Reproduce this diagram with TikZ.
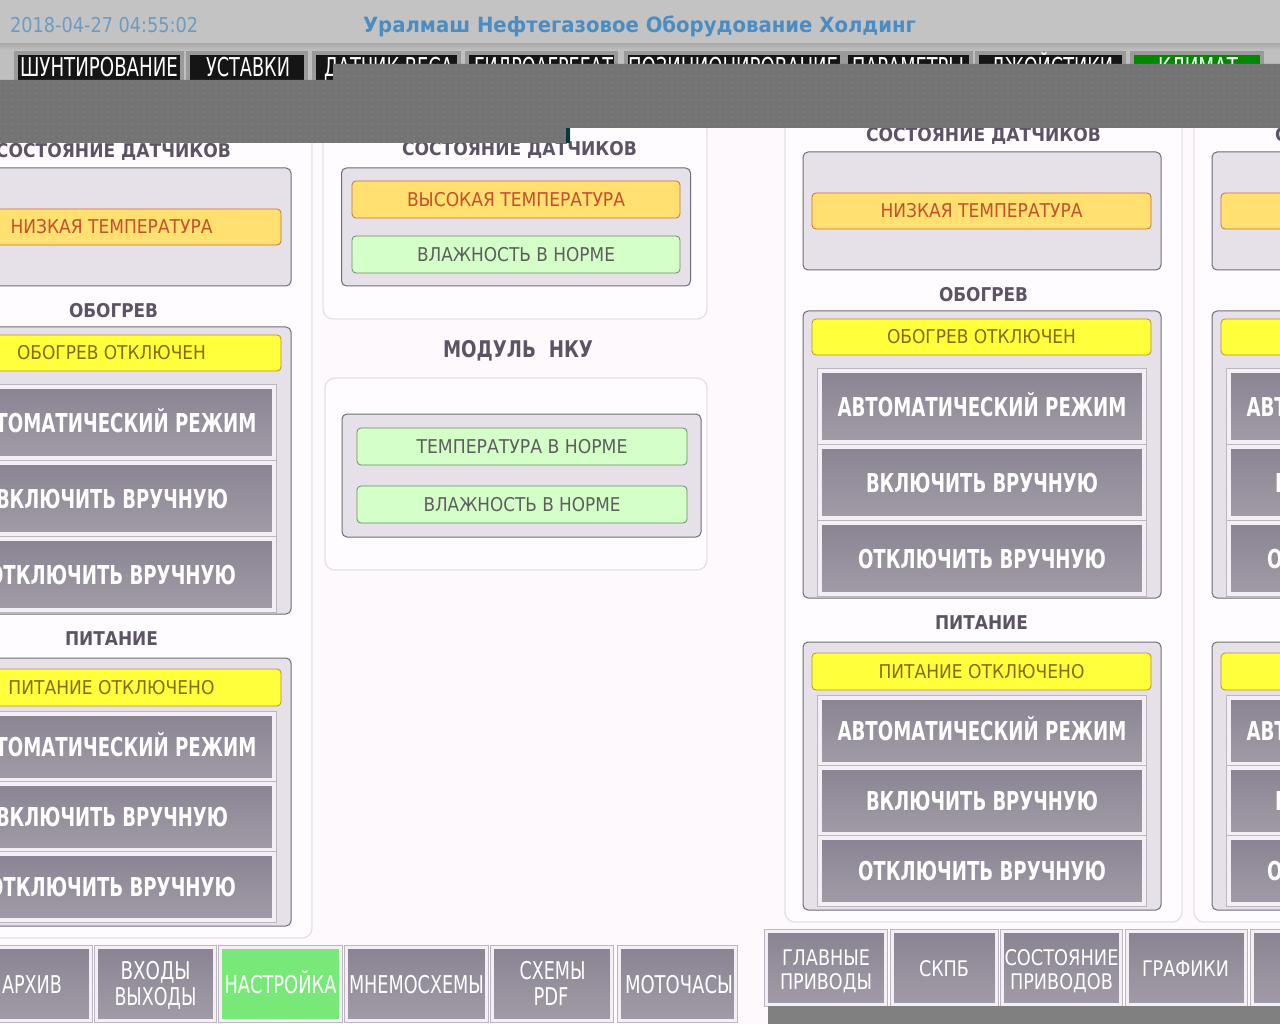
\documentclass[tikz,border=0pt]{standalone}
\usepackage{fontspec}
\setmainfont{DejaVu Sans}
\usepackage{graphicx}
\usetikzlibrary{patterns.meta}

\definecolor{bgmain}{HTML}{FDF9FD}
\definecolor{titlebar}{HTML}{C3C3C3}
\definecolor{tabstrip}{HTML}{BFBFBF}
\definecolor{overlaycol}{HTML}{747474}
\definecolor{overlaydot}{HTML}{8E8E8E}
\definecolor{datecol}{HTML}{6C9BC3}
\definecolor{titlecol}{HTML}{4A8DC3}
\definecolor{hdrcol}{HTML}{5C5464}
\definecolor{cardfill}{HTML}{FFFCFF}
\definecolor{cardline}{HTML}{E6DFE8}
\definecolor{boxfill}{HTML}{E6E0E8}
\definecolor{boxdraw}{HTML}{726A7A}
\definecolor{orfill}{HTML}{FFE070}
\definecolor{ordraw}{HTML}{C8703C}
\definecolor{ortext}{HTML}{C4502C}
\definecolor{yefill}{HTML}{FFFF3C}
\definecolor{yedraw}{HTML}{B89030}
\definecolor{yetext}{HTML}{8A6A14}
\definecolor{grfill}{HTML}{D4FFC8}
\definecolor{grdraw}{HTML}{6C8C6C}
\definecolor{grtext}{HTML}{5E5E5E}
\definecolor{btntop}{HTML}{8A8392}
\definecolor{btnbot}{HTML}{A29BA7}
\definecolor{btnframe}{HTML}{F3EFF5}
\definecolor{btnedge}{HTML}{BDB5C2}
\definecolor{navgreen}{HTML}{78E878}
\definecolor{tabgreen}{HTML}{008800}
\definecolor{tabblack}{HTML}{151515}
\definecolor{tabframe}{HTML}{9A9A9A}
\definecolor{bottombar}{HTML}{808080}

\newsavebox\fitbox
\newcommand\fitw[2]{\sbox\fitbox{#2}\pgfmathsetmacro\fitsx{#1/\the\wd\fitbox}\scalebox{\fitsx}[1]{\usebox\fitbox}}

\newcommand\hmihdr{\fontsize{19}{22}\selectfont\bfseries}
\newcommand\hmihdrbig{\fontsize{23}{26}\selectfont\bfseries}
\newcommand\hmiind{\fontsize{19}{22}\selectfont}
\newcommand\hmibtn{\fontsize{26}{30}\selectfont\bfseries}
\newcommand\hminavl{\fontsize{24.5}{28}\selectfont}
\newcommand\hminavr{\fontsize{21.5}{25}\selectfont}
\newcommand\hmitab{\fontsize{26}{30}\selectfont}
\newcommand\hmidate{\fontsize{20.5}{24}\selectfont}
\newcommand\hmititle{\fontsize{21}{24}\selectfont\bfseries}

\tikzset{
 card/.style={draw=cardline, fill=cardfill, line width=1.3pt, rounded corners=10pt, inner sep=0pt},
 graybox/.style={draw=boxdraw, fill=boxfill, line width=1pt, rounded corners=5pt, inner sep=0pt},
 hdr/.style={anchor=base, inner sep=0pt, text=hdrcol, font=\hmihdr},
 hdrbig/.style={anchor=base, inner sep=0pt, text=hdrcol, font=\hmihdrbig},
 indcommon/.style={line width=0.8pt, rounded corners=4pt, inner sep=0pt, font=\hmiind, text height=13.9pt, text depth=0pt},
 indor/.style={indcommon, draw=ordraw, fill=orfill, text=ortext},
 indye/.style={indcommon, draw=yedraw, fill=yefill, text=yetext},
 indgr/.style={indcommon, draw=grdraw, fill=grfill, text=grtext},
 bigbtn/.style={inner sep=0pt, preaction={draw=btnedge, line width=6pt}, top color=btntop, bottom color=btnbot, draw=btnframe, line width=4pt, text=white, font=\hmibtn, text height=19pt, text depth=0pt},
 navbtn/.style={inner sep=0pt, preaction={draw=btnedge, line width=5pt}, top color=btntop, bottom color=btnbot, draw=btnframe, line width=3pt, minimum height=73},
 navgreenbtn/.style={inner sep=0pt, preaction={draw=btnedge, line width=5pt}, fill=navgreen, draw=btnframe, line width=3pt, minimum height=73},
 navtxtl/.style={anchor=base, inner sep=0pt, text=white, font=\hminavl},
 navtxtr/.style={anchor=base, inner sep=0pt, text=white, font=\hminavr},
 tabbtn/.style={inner sep=0pt, fill=tabblack, draw=tabframe, line width=4pt, minimum height=35},
 tabtxt/.style={anchor=base, inner sep=0pt, text=white, font=\hmitab},
}

\newcommand\climcol[3]{%
\begin{scope}[shift={(#2,#3)}]
 \node[card, minimum width=397, minimum height=822] (#1card) at (983.5,511) {};
 \node[hdr] (#1hdrA) at (983.5,142) {\fitw{235}{СОСТОЯНИЕ ДАТЧИКОВ}};
 \node[graybox, minimum width=358, minimum height=118] (#1boxA) at (982,211) {};
 \node[indor, minimum width=339, minimum height=36] (#1low) at (981.5,211) {\fitw{202}{НИЗКАЯ ТЕМПЕРАТУРА}};
 \node[hdr] (#1hdrB) at (983.5,302) {\fitw{89}{ОБОГРЕВ}};
 \node[graybox, minimum width=358, minimum height=287] (#1boxB) at (982,454.5) {};
 \node[indye, minimum width=339, minimum height=36] (#1heat) at (981.5,337) {\fitw{189}{ОБОГРЕВ ОТКЛЮЧЕН}};
 \node[bigbtn, minimum width=324, minimum height=71] (#1hA) at (982,406.5) {\fitw{289}{АВТОМАТИЧЕСКИЙ РЕЖИМ}};
 \node[bigbtn, minimum width=324, minimum height=71] (#1hB) at (982,482.5) {\fitw{232}{ВКЛЮЧИТЬ ВРУЧНУЮ}};
 \node[bigbtn, minimum width=324, minimum height=71] (#1hC) at (982,558.5) {\fitw{248}{ОТКЛЮЧИТЬ ВРУЧНУЮ}};
 \node[hdr] (#1hdrC) at (981.5,629) {\fitw{93}{ПИТАНИЕ}};
 \node[graybox, minimum width=358, minimum height=268] (#1boxC) at (982,776) {};
 \node[indye, minimum width=339, minimum height=37] (#1pwr) at (981.5,671.5) {\fitw{206}{ПИТАНИЕ ОТКЛЮЧЕНО}};
 \node[bigbtn, minimum width=324, minimum height=66] (#1pA) at (982,731) {\fitw{289}{АВТОМАТИЧЕСКИЙ РЕЖИМ}};
 \node[bigbtn, minimum width=324, minimum height=66] (#1pB) at (982,801) {\fitw{232}{ВКЛЮЧИТЬ ВРУЧНУЮ}};
 \node[bigbtn, minimum width=324, minimum height=66] (#1pC) at (982,871) {\fitw{248}{ОТКЛЮЧИТЬ ВРУЧНУЮ}};
\end{scope}}

\begin{document}
\begin{tikzpicture}[x=1pt,y=-1pt]
\useasboundingbox (0,0) rectangle (1280,1024);
\clip (0,0) rectangle (1280,1024);
% backgrounds
\fill[bgmain] (0,0) rectangle (1280,1024);
\fill[titlebar] (0,0) rectangle (1280,46);
\fill[tabstrip] (0,46) rectangle (1280,82);
\shade[top color=black!32, bottom color=tabstrip] (0,44) rectangle (1280,50);

% tabs
\node[tabbtn, minimum width=166] (t1) at (99,70.5) {};
\node[tabtxt] (t1t) at (99,77) {\fitw{158}{ШУНТИРОВАНИЕ}};
\node[tabbtn, minimum width=118] (t2) at (247,70.5) {};
\node[tabtxt] (t2t) at (248,77) {\fitw{84}{УСТАВКИ}};
\node[tabbtn, minimum width=145] (t3) at (386.5,70.5) {};
\node[tabtxt] (t3t) at (388.5,77) {\fitw{129}{ДАТЧИК ВЕСА}};
\node[tabbtn, minimum width=149] (t4) at (541.5,70.5) {};
\node[tabtxt] (t4t) at (543.5,77) {\fitw{139}{ГИДРОАГРЕГАТ}};
\node[tabbtn, minimum width=216] (t5) at (734,70.5) {};
\node[tabtxt] (t5t) at (733,77) {\fitw{210}{ПОЗИЦИОНИРОВАНИЕ}};
\node[tabbtn, minimum width=125] (t6) at (908.5,70.5) {};
\node[tabtxt] (t6t) at (908,77) {\fitw{112}{ПАРАМЕТРЫ}};
\node[tabbtn, minimum width=147] (t7) at (1050.5,70.5) {};
\node[tabtxt] (t7t) at (1052,77) {\fitw{122}{ДЖОЙСТИКИ}};
\node[tabbtn, minimum width=130, fill=tabgreen] (t8) at (1197,70.5) {};
\node[tabtxt] (t8t) at (1198,77) {\fitw{80}{КЛИМАТ}};

% columns
\climcol{L}{-870}{16}
\climcol{R}{0}{0}
\climcol{F}{409}{0}

% middle column
\node[card, minimum width=384, minimum height=200] (Mcard1) at (515,219) {};
\node[hdr] (MhdrA) at (519.5,156) {\fitw{235}{СОСТОЯНИЕ ДАТЧИКОВ}};
\node[graybox, minimum width=349, minimum height=118] (MboxA) at (516,227) {};
\node[indor, minimum width=328, minimum height=37] (Mhigh) at (516,199.5) {\fitw{218}{ВЫСОКАЯ ТЕМПЕРАТУРА}};
\node[indgr, minimum width=328, minimum height=37] (Mhum1) at (516,254.5) {\fitw{198}{ВЛАЖНОСТЬ В НОРМЕ}};
\node[hdrbig] (Mmod) at (518,358) {\fitw{150}{МОДУЛЬ\ \ НКУ}};
\node[card, minimum width=382, minimum height=192] (Mcard2) at (516,474) {};
\node[graybox, minimum width=359, minimum height=123] (MboxB) at (521.5,475.5) {};
\node[indgr, minimum width=330, minimum height=37] (Mtemp) at (522,446.5) {\fitw{211}{ТЕМПЕРАТУРА В НОРМЕ}};
\node[indgr, minimum width=330, minimum height=37] (Mhum2) at (522,504.5) {\fitw{197}{ВЛАЖНОСТЬ В НОРМЕ}};

% bottom navigation, left group
\node[navbtn, minimum width=119] (nl1) at (31,984) {};
\node[navtxtl] (nl1t) at (32,993) {\fitw{60}{АРХИВ}};
\node[navbtn, minimum width=118] (nl2) at (155.5,984) {};
\node[navtxtl] (nl2a) at (155.5,979) {\fitw{70}{ВХОДЫ}};
\node[navtxtl] (nl2b) at (155.5,1005) {\fitw{82}{ВЫХОДЫ}};
\node[navgreenbtn, minimum width=120] (nl3) at (280.5,984) {};
\node[navtxtl] (nl3t) at (280.5,993) {\fitw{112}{НАСТРОЙКА}};
\node[navbtn, minimum width=140] (nl4) at (416.5,984) {};
\node[navtxtl] (nl4t) at (416.5,993) {\fitw{135}{МНЕМОСХЕМЫ}};
\node[navbtn, minimum width=119] (nl5) at (552,984) {};
\node[navtxtl] (nl5a) at (552.5,979) {\fitw{66}{СХЕМЫ}};
\node[navtxtl] (nl5b) at (551,1005) {\fitw{35}{PDF}};
\node[navbtn, minimum width=116] (nl6) at (677.5,984) {};
\node[navtxtl] (nl6t) at (679,993) {\fitw{108}{МОТОЧАСЫ}};

% bottom navigation, right group
\node[navbtn, minimum width=119] (nr1) at (826,968) {};
\node[navtxtr] (nr1a) at (826,965) {\fitw{88}{ГЛАВНЫЕ}};
\node[navtxtr] (nr1b) at (826,989) {\fitw{92}{ПРИВОДЫ}};
\node[navbtn, minimum width=104] (nr2) at (944.5,968) {};
\node[navtxtr] (nr2t) at (944,976) {\fitw{50}{СКПБ}};
\node[navbtn, minimum width=118] (nr3) at (1061.5,968) {};
\node[navtxtr] (nr3a) at (1061.5,965) {\fitw{114}{СОСТОЯНИЕ}};
\node[navtxtr] (nr3b) at (1061.5,989) {\fitw{103}{ПРИВОДОВ}};
\node[navbtn, minimum width=118] (nr4) at (1186.5,968) {};
\node[navtxtr] (nr4t) at (1185.5,976) {\fitw{87}{ГРАФИКИ}};
\node[navbtn, minimum width=119] (nr5) at (1312,968) {};
\fill[bottombar] (768,1006) rectangle (1280,1024);

% grey overlay band
\path[fill=overlaycol, postaction={pattern={Dots[distance=6pt, radius=0.6pt]}, pattern color=overlaydot}]
 (0,80) -- (333,80) -- (333,64) -- (1280,64) -- (1280,128) -- (570,128) -- (570,143) -- (0,143) -- cycle;
\fill[fill=black!55!teal] (566,128) rectangle (570,143);

% title bar texts
\node[anchor=base west, inner sep=0pt, text=datecol, font=\hmidate] (date) at (10,33) {\fitw{188}{2018-04-27 04:55:02}};
\node[anchor=base, inner sep=0pt, text=titlecol, font=\hmititle] (title) at (639.5,33) {\fitw{553}{Уралмаш Нефтегазовое Оборудование Холдинг}};
\end{tikzpicture}
\end{document}
